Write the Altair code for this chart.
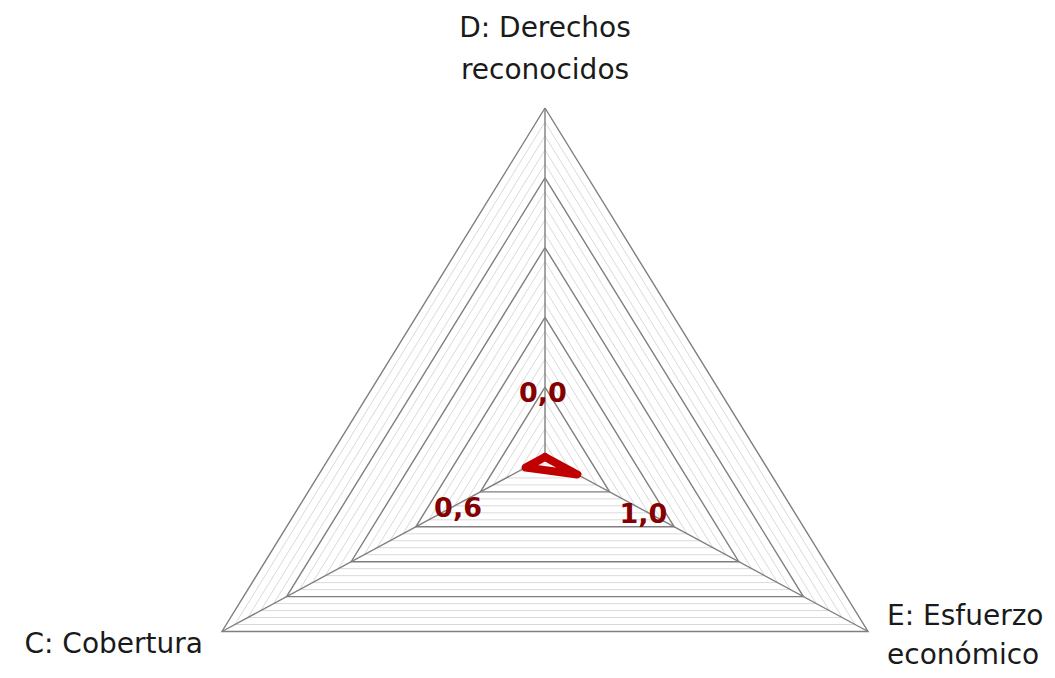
import altair as alt
import pandas as pd

# ---- data ----
categories = ["D: Derechos\nreconocidos", "E: Esfuerzo\neconómico", "C: Cobertura"]
values = [0.0, 1.0, 0.6]
value_labels = ["0,0", "1,0", "0,6"]
major_levels = [2, 4, 6, 8, 10]
minor_levels = [0.4, 0.8, 1.2, 1.6, 2.4, 2.8, 3.2, 3.6, 4.4, 4.8, 5.2, 5.6,
                6.4, 6.8, 7.2, 7.6, 8.4, 8.8, 9.2, 9.6]
scale_max = 10
n = len(categories)

# ---- tables built from the arrays ----
ring_rows = []
for lvl in minor_levels:
    for k in range(n + 1):
        ring_rows.append({"level": lvl, "k": k % n, "ord": k, "kind": "minor"})
for lvl in major_levels:
    for k in range(n + 1):
        ring_rows.append({"level": lvl, "k": k % n, "ord": k, "kind": "major"})
rings = pd.DataFrame(ring_rows)

spokes = pd.DataFrame(
    [{"k": i, "level": r, "ord": j} for i in range(n) for j, r in enumerate([0, scale_max])]
)

series = pd.DataFrame(
    [{"k": i % n, "ord": i, "level": values[i % n], "lab": value_labels[i % n],
      "cat": categories[i % n]} for i in range(n + 1)]
)
points = series[series["ord"] < n]
cats = pd.DataFrame([{"k": i, "level": scale_max, "cat": categories[i]} for i in range(n)])

W, H = 1039, 662
cx, cy = 537, 449
px_x, px_y = 37.3, 34.9
xdom = [-cx / px_x, (W - cx) / px_x]
ydom = [-(H - cy) / px_y, cy / px_y]

X = alt.X("x:Q", scale=alt.Scale(domain=xdom, nice=False, zero=False), axis=None)
Y = alt.Y("y:Q", scale=alt.Scale(domain=ydom, nice=False, zero=False), axis=None)


def polar(ch):
    return ch.transform_calculate(
        x=f"datum.level * sin(datum.k * 2 * PI / {n})",
        y=f"datum.level * cos(datum.k * 2 * PI / {n})",
    )


minor = polar(alt.Chart(rings).transform_filter("datum.kind == 'minor'")).mark_line(
    stroke="#dadada", strokeWidth=1
).encode(x=X, y=Y, detail="level:N", order="ord:Q")

major = polar(alt.Chart(rings).transform_filter("datum.kind == 'major'")).mark_line(
    stroke="#7f7f7f", strokeWidth=1.4
).encode(x=X, y=Y, detail="level:N", order="ord:Q")

spoke = polar(alt.Chart(spokes)).mark_line(stroke="#7f7f7f", strokeWidth=1.4).encode(
    x=X, y=Y, detail="k:N", order="ord:Q"
)

line = polar(alt.Chart(series)).mark_line(
    stroke="#c00000", strokeWidth=8, strokeJoin="round", strokeCap="round"
).encode(x=X, y=Y, order="ord:Q")

layers = [minor, major, spoke, line]

# data labels
label_offsets = {0: (-2, -55), 1: (66, 48.5), 2: (-67.6, 49.5)}
for k, (dx, dy) in label_offsets.items():
    layers.append(
        polar(alt.Chart(points).transform_filter(f"datum.k == {k}")).mark_text(
            font="DejaVu Sans", fontSize=27, fontWeight="bold", color="#850000",
            align="center", baseline="alphabetic", dx=dx, dy=dy
        ).encode(x=X, y=Y, text="lab:N")
    )

# category labels
cat_styles = {0: ("center", 0, -71, 42), 1: ("left", 19, -7, 39), 2: ("right", -19, 21.5, 42)}
for k, (al, dx, dy, lh) in cat_styles.items():
    layers.append(
        polar(alt.Chart(cats).transform_filter(f"datum.k == {k}")).mark_text(
            font="DejaVu Sans", fontSize=28, color="#1a1a1a", align=al,
            baseline="alphabetic", dx=dx, dy=dy, lineBreak="\n", lineHeight=lh
        ).encode(x=X, y=Y, text="cat:N")
    )

chart = alt.layer(*layers).properties(
    width=W, height=H, padding=0, autosize=alt.AutoSizeParams(type="none")
).configure_view(stroke=None)

chart.save("out.html", embed_options={"renderer": "svg", "actions": False})
